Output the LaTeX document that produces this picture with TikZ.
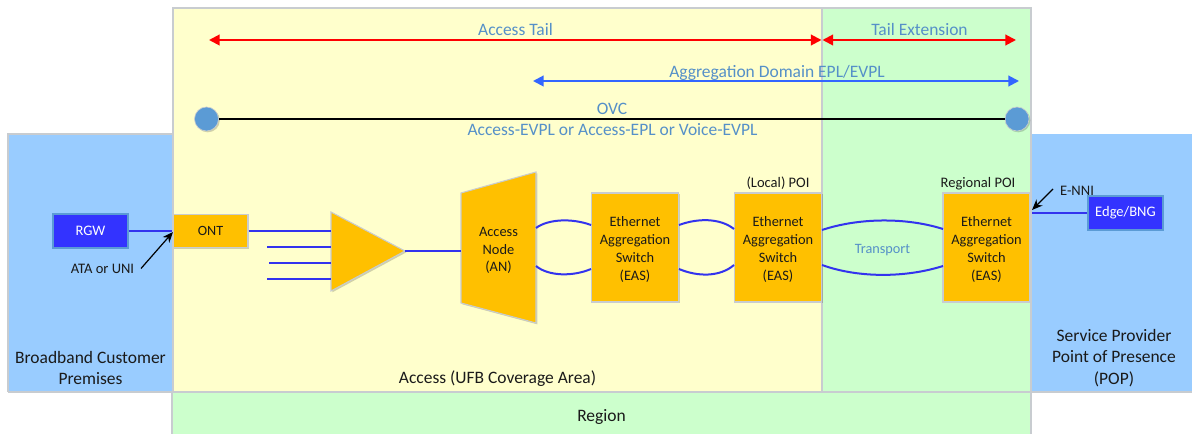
\documentclass[tikz,border=0pt]{standalone}
\usepackage{fontspec}
\setmainfont{Carlito}
\usetikzlibrary{arrows.meta,shadows}
\definecolor{zoneblue}{HTML}{99CCFF}
\definecolor{zoneyellow}{HTML}{FFFFCC}
\definecolor{zonegreen}{HTML}{CCFFCC}
\definecolor{zoneedge}{HTML}{C8CCD0}
\definecolor{amber}{HTML}{FFC000}
\definecolor{royal}{HTML}{3333FF}
\definecolor{linkblue}{HTML}{3333EE}
\definecolor{steel}{HTML}{5B9BD5}
\definecolor{labelblue}{HTML}{5590C8}
\definecolor{arrowblue}{HTML}{3366FF}
\definecolor{ink}{HTML}{1A1A1A}
\def\px{0.75pt}
\tikzset{
  softshadow/.style={drop shadow={shadow xshift=1pt,shadow yshift=-1pt,opacity=.18,fill=black}},
  zone/.style={draw=zoneedge,line width=1pt},
  equip/.style={fill=amber,draw=zoneedge,line width=.8pt,softshadow},
  eastext/.style={inner sep=0pt,align=center,text=ink,font=\fontsize{10.8}{13.3}\selectfont},
  eas/.style={equip,minimum width=87*\px,minimum height=109*\px,inner sep=0pt},
  endbox/.style={fill=royal,draw=steel,line width=.8pt,minimum width=75*\px,minimum height=34*\px,inner sep=0pt,text=white,font=\fontsize{10.9}{12}\selectfont,softshadow},
  link/.style={draw=linkblue,line width=1.5pt},
  lbl/.style={inner sep=0pt,align=center,text=ink,font=\fontsize{13.1}{15.9}\selectfont},
  small/.style={inner sep=0pt,align=center,text=ink,font=\fontsize{10.9}{12}\selectfont},
  bluelbl/.style={inner sep=0pt,align=center,text=labelblue,font=\fontsize{13.1}{15}\selectfont},
  span/.style={line width=1.5pt,{Triangle[length=8pt,width=8pt]}-{Triangle[length=8pt,width=8pt]}},
  pointer/.style={draw=black,line width=.9pt,-{Stealth[length=8pt,width=6.5pt]}},
  endpoint/.style={circle,fill=steel,draw=zoneedge,line width=.5pt,minimum size=24*\px,inner sep=0pt,softshadow}
}
\begin{document}
\begin{tikzpicture}[x=0.75pt,y=-0.75pt]
\useasboundingbox (0,0) rectangle (1192,434);
% zones
\fill[zoneblue,softshadow] (8,134) rectangle (173,392);
\draw[zone] (8,392) -- (8,134) -- (173,134);
\draw[zone] (8,392) -- (173,392);
\fill[zoneblue] (1031,134) rectangle (1192,392);
\draw[zone] (1031,392) -- (1192,392);
\draw[zone,fill=zoneyellow] (173,8) rectangle (822,392);
\draw[zone,fill=zonegreen] (822,8) rectangle (1031,392);
\draw[zone,fill=zonegreen] (172,434.5) -- (172,392) -- (1031,392) -- (1031,434.5);
% zone labels
\node[lbl] (prem) at (90.5,368) {Broadband Customer\\Premises};
\node[lbl] (pop) at (1114,358) {Service Provider\\Point of Presence\\(POP)};
\node[lbl] (access) at (497.5,378.5) {Access (UFB Coverage Area)};
\node[lbl] (region) at (601.5,416.5) {Region};
% span arrows
\coordinate (atL) at (209,40);
\coordinate (atR) at (821.5,40);
\coordinate (teL) at (822.5,40);
\coordinate (teR) at (1016,40);
\coordinate (adL) at (533,81);
\coordinate (adR) at (1019,81);
\draw[span,red] (atL) -- (atR);
\draw[span,red] (teL) -- (teR);
\draw[span,arrowblue] (adL) -- (adR);
\node[bluelbl] (tAT) at (515.5,30) {Access Tail};
\node[bluelbl] (tTE) at (919.5,30) {Tail Extension};
\node[bluelbl] (tAD) at (777,72.5) {Aggregation Domain EPL/EVPL};
% OVC
\node[endpoint] (ovcL) at (206.5,119) {};
\node[endpoint] (ovcR) at (1017,119) {};
\draw[black,line width=1.6pt] (ovcL) -- (ovcR);
\node[bluelbl] (tOVC) at (612,108.5) {OVC};
\node[bluelbl] (tEVPL) at (612.5,130) {Access-EVPL or Access-EPL or Voice-EVPL};
% equipment
\node[endbox] (rgw) at (90.5,231) {RGW};
\node[endbox] (bng) at (1125.5,213) {Edge/BNG};
\node[equip,minimum width=75*\px,minimum height=33*\px,inner sep=0pt,text=ink,font=\fontsize{10.6}{12}\selectfont] (ont) at (210.5,231) {ONT};
% splitter
\coordinate (sA) at (331,212);
\coordinate (sB) at (405,251);
\coordinate (sC) at (331,291);
\draw[equip] (sA) -- (sB) -- (sC) -- cycle;
% access node
\draw[equip] (461,193) -- (536,172) -- (536,323) -- (461,303) -- cycle;
\coordinate (anW) at (461,251);
\node[eastext] (an) at (498.5,250.5) {Access\\Node\\(AN)};
\node[eas] (eas1) at (635,247.5) {};
\node[eas] (eas2) at (778,247.5) {};
\node[eas] (eas3) at (986.5,247.5) {};
\node[eastext] (eas1t) at (635,249.5) {Ethernet\\Aggregation\\Switch\\(EAS)};
\node[eastext] (eas2t) at (778,249.5) {Ethernet\\Aggregation\\Switch\\(EAS)};
\node[eastext] (eas3t) at (986.5,249.5) {Ethernet\\Aggregation\\Switch\\(EAS)};
\node[small] (lpoi) at (778,183) {(Local) POI};
\node[small] (rpoi) at (978,183.5) {Regional POI};
% links
\draw[link] (rgw.east) -- (ont.west);
\draw[link] (ont.east) -- (331,231);
\coordinate (f2) at (267,247); \coordinate (f3) at (269,263); \coordinate (f4) at (267,279);
\draw[link] (f2) -- (331,247);
\draw[link] (f3) -- (331,263);
\draw[link] (f4) -- (331,279);
\draw[link] (sB) -- (anW);
\coordinate (anU) at (536,228); \coordinate (anD) at (536,266);
\coordinate (e1WU) at (591,225); \coordinate (e1WD) at (591,269);
\coordinate (e1EU) at (679,225); \coordinate (e1ED) at (679,269);
\coordinate (e2WU) at (734,229); \coordinate (e2WD) at (734,265);
\coordinate (e2EU) at (822,230); \coordinate (e2ED) at (822,265);
\coordinate (e3WU) at (943,229); \coordinate (e3WD) at (943,266);
\draw[link] (anU) .. controls (548,219) and (572,218) .. (e1WU);
\draw[link] (anD) .. controls (548,276) and (572,277) .. (e1WD);
\draw[link] (e1EU) .. controls (698,218) and (720,218) .. (e2WU);
\draw[link] (e1ED) .. controls (698,277) and (720,277) .. (e2WD);
\draw[link] (e2EU) .. controls (858,218) and (905,217) .. (e3WU);
\draw[link] (e2ED) .. controls (858,278) and (905,278) .. (e3WD);
\node[bluelbl,font=\fontsize{10.7}{12}\selectfont] (tT) at (882.5,250) {Transport};
\coordinate (e3E) at (1031.5,213);
\draw[link] (bng.west) -- (e3E);
% pointers
\node[small] (ata) at (102.5,269) {ATA or UNI};
\node[small] (nni) at (1077,190.5) {E-NNI};
\coordinate (ataTip) at (173,232);
\coordinate (ataTail) at (141,268.5);
\coordinate (nniTip) at (1032,210);
\coordinate (nniTail) at (1053,189);
\draw[pointer] (ataTail) -- (ataTip);
\draw[pointer] (nniTail) -- (nniTip);
\end{tikzpicture}
\end{document}
